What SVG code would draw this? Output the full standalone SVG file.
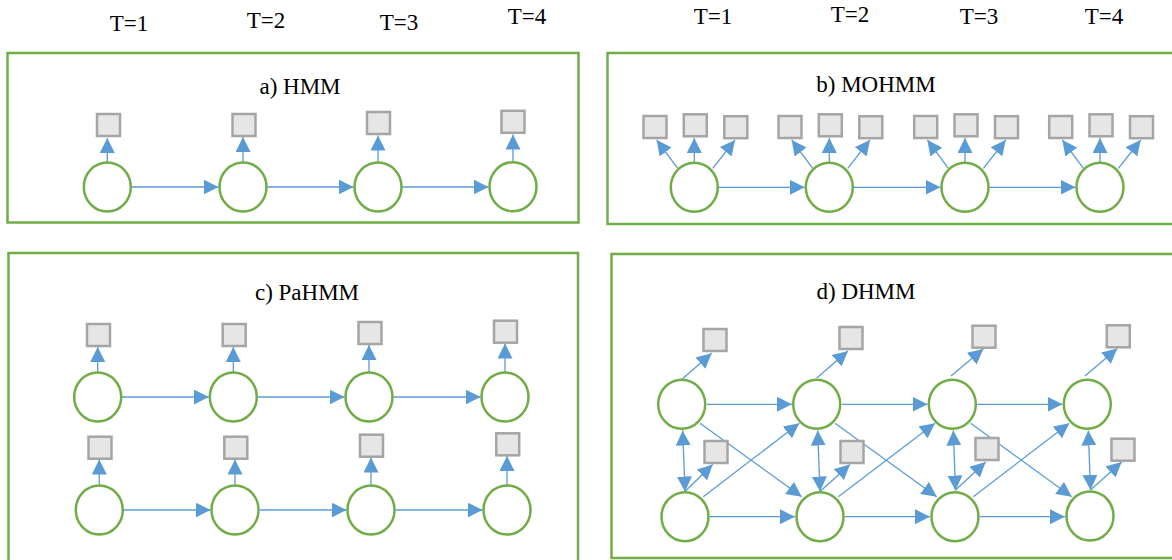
<svg xmlns="http://www.w3.org/2000/svg" width="1172" height="560" viewBox="0 0 1172 560">
<defs>
<marker id="ah" markerUnits="userSpaceOnUse" markerWidth="15" markerHeight="15" refX="15" refY="7.5" orient="auto-start-reverse" viewBox="0 0 15 15">
<path d="M0,0 L15,7.5 L0,15 z" fill="#5b9bd5"/>
</marker>
<style>
.box{fill:none;stroke:#70ad47;stroke-width:2.5}
.st{fill:#ffffff;stroke:#70ad47;stroke-width:2.5}
.ob{fill:#e6e6e6;stroke:#a5a5a5;stroke-width:2.5}
.e{fill:none;stroke:#5b9bd5;stroke-width:1.3;marker-end:url(#ah)}
.d{fill:none;stroke:#5b9bd5;stroke-width:1.3;marker-end:url(#ah);marker-start:url(#ah)}
.lbl{font-family:"Liberation Serif","Times New Roman",serif;font-size:23px;fill:#000;text-anchor:middle}
.ttl{font-family:"Liberation Serif","Times New Roman",serif;font-size:23px;fill:#000;text-anchor:middle}
</style>
</defs>
<rect width="1172" height="560" fill="#ffffff"/>

<g id="time-labels">
<text class="lbl" x="129" y="31">T=1</text>
<text class="lbl" x="266" y="28">T=2</text>
<text class="lbl" x="399" y="30">T=3</text>
<text class="lbl" x="527" y="24">T=4</text>
<text class="lbl" x="713" y="24">T=1</text>
<text class="lbl" x="850" y="22">T=2</text>
<text class="lbl" x="979" y="24">T=3</text>
<text class="lbl" x="1104" y="24">T=4</text>
</g>

<g id="panel-frames">
<rect class="box" x="7.5" y="53" width="571" height="169.5"/>
<rect class="box" x="607.5" y="53" width="570" height="171"/>
<rect class="box" x="8.5" y="253" width="569.5" height="320"/>
<rect class="box" x="611.5" y="254" width="570" height="304"/>
</g>

<g id="titles">
<text class="ttl" x="300" y="94">a) HMM</text>
<text class="ttl" x="876" y="91.5">b) MOHMM</text>
<text class="ttl" x="307" y="300">c) PaHMM</text>
<text class="ttl" x="866" y="299">d) DHMM</text>
</g>

<g id="connectors">
<!-- panel a -->
<line class="e" x1="107.3" y1="162.5" x2="107.3" y2="138"/>
<line class="e" x1="243" y1="162.5" x2="243" y2="137"/>
<line class="e" x1="378" y1="162.5" x2="378" y2="135.5"/>
<line class="e" x1="513" y1="162.2" x2="513" y2="134.5"/>
<line class="e" x1="131.5" y1="187" x2="218.5" y2="187"/>
<line class="e" x1="267.2" y1="187" x2="353.5" y2="187"/>
<line class="e" x1="402.2" y1="187" x2="488.5" y2="187"/>
<!-- panel b -->
<line class="e" x1="677.7" y1="168.3" x2="656.7" y2="140"/>
<line class="e" x1="694.3" y1="162.5" x2="694.3" y2="138"/>
<line class="e" x1="712.7" y1="168.3" x2="735" y2="140"/>
<line class="e" x1="812.7" y1="168.3" x2="791.7" y2="140"/>
<line class="e" x1="829.3" y1="162.5" x2="829.3" y2="138"/>
<line class="e" x1="847.7" y1="168.3" x2="870" y2="140"/>
<line class="e" x1="948.4" y1="168.3" x2="927.4" y2="140"/>
<line class="e" x1="965" y1="162.5" x2="965" y2="138"/>
<line class="e" x1="983.4" y1="168.3" x2="1005.7" y2="140"/>
<line class="e" x1="1083.4" y1="168.3" x2="1062.4" y2="140"/>
<line class="e" x1="1100" y1="162.5" x2="1100" y2="138"/>
<line class="e" x1="1118.4" y1="168.3" x2="1140.7" y2="140"/>
<line class="e" x1="718.8" y1="187.3" x2="804.8" y2="187.3"/>
<line class="e" x1="853.8" y1="187.3" x2="940.5" y2="187.3"/>
<line class="e" x1="989.5" y1="187.3" x2="1075.5" y2="187.3"/>
<!-- panel c -->
<line class="e" x1="97.7" y1="372.5" x2="97.7" y2="347"/>
<line class="e" x1="233.3" y1="372.5" x2="233.3" y2="347"/>
<line class="e" x1="369" y1="372.5" x2="369" y2="345"/>
<line class="e" x1="505" y1="372.5" x2="505" y2="343.5"/>
<line class="e" x1="99.3" y1="485.5" x2="99.3" y2="459.5"/>
<line class="e" x1="235" y1="485.5" x2="235" y2="459.5"/>
<line class="e" x1="371" y1="485.5" x2="371" y2="457.5"/>
<line class="e" x1="507" y1="485.5" x2="507" y2="456"/>
<line class="e" x1="122" y1="397" x2="208.8" y2="397"/>
<line class="e" x1="257.8" y1="397" x2="344.5" y2="397"/>
<line class="e" x1="393.5" y1="397" x2="480.5" y2="397"/>
<line class="e" x1="123.8" y1="510" x2="210.5" y2="510"/>
<line class="e" x1="259.5" y1="510" x2="346.5" y2="510"/>
<line class="e" x1="395.5" y1="510" x2="482.5" y2="510"/>
<!-- panel d: to observations -->
<line class="e" x1="681.7" y1="379.5" x2="711.7" y2="353.3"/>
<line class="e" x1="816.7" y1="378" x2="848" y2="351"/>
<line class="e" x1="951" y1="376" x2="983.3" y2="349"/>
<line class="e" x1="1085" y1="376" x2="1117.3" y2="348.5"/>
<line class="e" x1="685" y1="491.5" x2="712.7" y2="464.5"/>
<line class="e" x1="820" y1="491.5" x2="850" y2="464.5"/>
<line class="e" x1="955.5" y1="490" x2="985.7" y2="462"/>
<line class="e" x1="1090.5" y1="490" x2="1121.7" y2="462"/>
<!-- panel d: vertical double arrows -->
<line class="d" x1="682.7" y1="430.5" x2="685" y2="491.5"/>
<line class="d" x1="817.7" y1="430.5" x2="820" y2="491.5"/>
<line class="d" x1="953.3" y1="430.5" x2="955.5" y2="490.5"/>
<line class="d" x1="1088.3" y1="430.5" x2="1090.5" y2="490"/>
<!-- panel d: horizontal -->
<line class="e" x1="706.7" y1="404.3" x2="792" y2="404.3"/>
<line class="e" x1="841.7" y1="404.3" x2="927.5" y2="404.3"/>
<line class="e" x1="977.3" y1="404.3" x2="1062.5" y2="404.3"/>
<line class="e" x1="710" y1="516.7" x2="795" y2="516.7"/>
<line class="e" x1="845" y1="516.7" x2="930" y2="516.7"/>
<line class="e" x1="980" y1="516.7" x2="1065" y2="516.7"/>
<!-- panel d: diagonals -->
<line class="e" x1="700" y1="423.3" x2="801.7" y2="496.7"/>
<line class="e" x1="703.3" y1="496.7" x2="799.3" y2="423.3"/>
<line class="e" x1="835" y1="423.3" x2="936.7" y2="496.7"/>
<line class="e" x1="838.3" y1="496.7" x2="935" y2="423.3"/>
<line class="e" x1="970.6" y1="423.3" x2="1071.7" y2="496.7"/>
<line class="e" x1="973.3" y1="496.7" x2="1069.3" y2="423.3"/>
</g>

<g id="panel-a-nodes">
<g id="a-s1"><ellipse class="st" cx="107.3" cy="187" rx="23.5" ry="24.5"/></g>
<g id="a-s2"><ellipse class="st" cx="243" cy="187" rx="23.5" ry="24.5"/></g>
<g id="a-s3"><ellipse class="st" cx="378" cy="187" rx="23.5" ry="24.5"/></g>
<g id="a-s4"><ellipse class="st" cx="513" cy="186.7" rx="23.5" ry="24.5"/></g>
<g id="a-o1"><rect class="ob" x="97" y="114" width="23" height="22"/></g>
<g id="a-o2"><rect class="ob" x="232.5" y="114" width="23" height="22"/></g>
<g id="a-o3"><rect class="ob" x="367" y="112" width="23" height="22"/></g>
<g id="a-o4"><rect class="ob" x="501.5" y="110.8" width="23" height="22"/></g>
</g>

<g id="panel-b-nodes">
<g id="b-s1"><ellipse class="st" cx="694.3" cy="187.3" rx="23.5" ry="24.5"/></g>
<g id="b-s2"><ellipse class="st" cx="829.3" cy="187.3" rx="23.5" ry="24.5"/></g>
<g id="b-s3"><ellipse class="st" cx="965" cy="187.3" rx="23.5" ry="24.5"/></g>
<g id="b-s4"><ellipse class="st" cx="1100" cy="187.3" rx="23.5" ry="24.5"/></g>
<g id="b-o1a"><rect class="ob" x="643.5" y="116" width="23" height="22"/></g>
<g id="b-o1b"><rect class="ob" x="683.8" y="114.3" width="23" height="22"/></g>
<g id="b-o1c"><rect class="ob" x="724.3" y="116.2" width="23" height="22"/></g>
<g id="b-o2a"><rect class="ob" x="778.5" y="116" width="23" height="22"/></g>
<g id="b-o2b"><rect class="ob" x="818.8" y="114.3" width="23" height="22"/></g>
<g id="b-o2c"><rect class="ob" x="859.3" y="116.2" width="23" height="22"/></g>
<g id="b-o3a"><rect class="ob" x="914.2" y="116" width="23" height="22"/></g>
<g id="b-o3b"><rect class="ob" x="954.5" y="114.3" width="23" height="22"/></g>
<g id="b-o3c"><rect class="ob" x="995" y="116.2" width="23" height="22"/></g>
<g id="b-o4a"><rect class="ob" x="1049.2" y="116" width="23" height="22"/></g>
<g id="b-o4b"><rect class="ob" x="1089.5" y="114.3" width="23" height="22"/></g>
<g id="b-o4c"><rect class="ob" x="1130" y="116.2" width="23" height="22"/></g>
</g>

<g id="panel-c-nodes">
<g id="c-s1"><ellipse class="st" cx="97.7" cy="397" rx="23.5" ry="24.5"/></g>
<g id="c-s2"><ellipse class="st" cx="233.3" cy="397" rx="23.5" ry="24.5"/></g>
<g id="c-s3"><ellipse class="st" cx="369" cy="397" rx="23.5" ry="24.5"/></g>
<g id="c-s4"><ellipse class="st" cx="505" cy="397" rx="23.5" ry="24.5"/></g>
<g id="c-s5"><ellipse class="st" cx="99.3" cy="510" rx="23.5" ry="24.5"/></g>
<g id="c-s6"><ellipse class="st" cx="235" cy="510" rx="23.5" ry="24.5"/></g>
<g id="c-s7"><ellipse class="st" cx="371" cy="510" rx="23.5" ry="24.5"/></g>
<g id="c-s8"><ellipse class="st" cx="507" cy="510" rx="23.5" ry="24.5"/></g>
<g id="c-o1"><rect class="ob" x="87" y="324" width="23" height="22"/></g>
<g id="c-o2"><rect class="ob" x="222.7" y="324" width="23" height="22"/></g>
<g id="c-o3"><rect class="ob" x="358.5" y="322" width="23" height="22"/></g>
<g id="c-o4"><rect class="ob" x="494" y="320.7" width="23" height="22"/></g>
<g id="c-o5"><rect class="ob" x="88.5" y="436.7" width="23" height="22"/></g>
<g id="c-o6"><rect class="ob" x="224.3" y="436.7" width="23" height="22"/></g>
<g id="c-o7"><rect class="ob" x="360" y="434.7" width="23" height="22"/></g>
<g id="c-o8"><rect class="ob" x="496.2" y="433.3" width="23" height="22"/></g>
</g>

<g id="panel-d-nodes">
<g id="d-t1"><ellipse class="st" cx="681.7" cy="404.3" rx="23.5" ry="24.5"/></g>
<g id="d-t2"><ellipse class="st" cx="816.7" cy="404.3" rx="23.5" ry="24.5"/></g>
<g id="d-t3"><ellipse class="st" cx="952.3" cy="404.3" rx="23.5" ry="24.5"/></g>
<g id="d-t4"><ellipse class="st" cx="1087.3" cy="404.3" rx="23.5" ry="24.5"/></g>
<g id="d-b1"><ellipse class="st" cx="685" cy="516.7" rx="23.5" ry="24.5"/></g>
<g id="d-b2"><ellipse class="st" cx="820" cy="516.7" rx="23.5" ry="24.5"/></g>
<g id="d-b3"><ellipse class="st" cx="955" cy="516.7" rx="23.5" ry="24.5"/></g>
<g id="d-b4"><ellipse class="st" cx="1090" cy="516" rx="23.5" ry="24.5"/></g>
<g id="d-ot1"><rect class="ob" x="703.5" y="329" width="23" height="22"/></g>
<g id="d-ot2"><rect class="ob" x="839.5" y="327" width="23" height="22"/></g>
<g id="d-ot3"><rect class="ob" x="972.5" y="325.7" width="23" height="22"/></g>
<g id="d-ot4"><rect class="ob" x="1106.8" y="325.3" width="23" height="22"/></g>
<g id="d-ob1"><rect class="ob" x="704.5" y="441" width="23" height="22"/></g>
<g id="d-ob2"><rect class="ob" x="840.5" y="441" width="23" height="22"/></g>
<g id="d-ob3"><rect class="ob" x="975.5" y="438" width="23" height="22"/></g>
<g id="d-ob4"><rect class="ob" x="1111.5" y="438.7" width="23" height="22"/></g>
</g>
</svg>
